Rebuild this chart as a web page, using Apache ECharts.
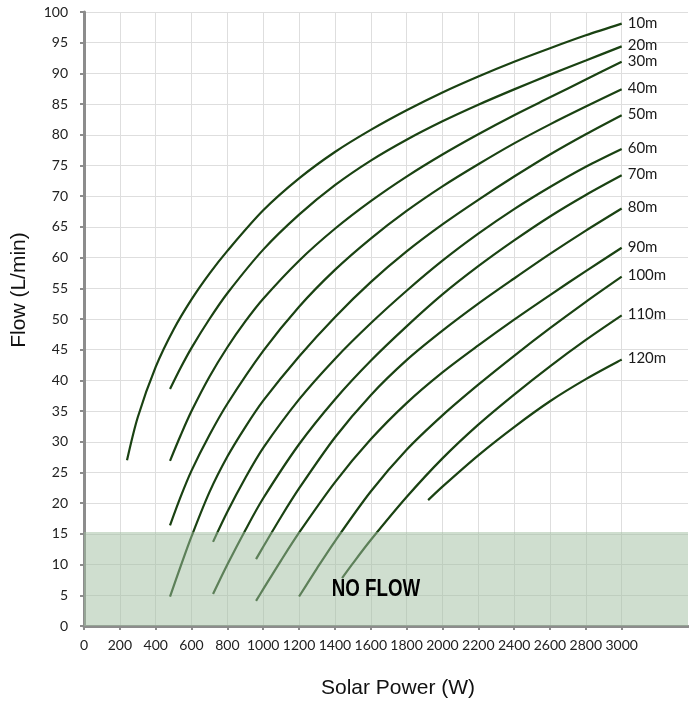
<!DOCTYPE html>
<html>
<head>
<meta charset="utf-8">
<script src="https://cdn.jsdelivr.net/npm/echarts@6/dist/echarts.min.js"></script>
<style>
html,body{margin:0;padding:0;background:#fff;}
#chart{width:689px;height:706px;}
</style>
</head>
<body>
<div id="chart"></div>
<script>
// ---- data (Solar Power W, Flow L/min) ----
const headNames = ['10m','20m','30m','40m','50m','60m','70m','80m','90m','100m','110m','120m'];
const curve10m = [[240,27.0],[300,34.0],[400,42.2],[500,48.3],[600,53.2],[700,57.4],[800,61.1],[1000,67.7],[1200,72.9],[1400,77.2],[1600,80.8],[1800,84.0],[2000,86.9],[2200,89.5],[2400,91.9],[2600,94.1],[2800,96.2],[3000,98.1]];
const curve20m = [[480,38.6],[540,42.1],[600,45.3],[700,50.0],[800,54.2],[1000,61.3],[1200,67.0],[1400,71.8],[1600,75.8],[1800,79.2],[2000,82.2],[2200,84.9],[2400,87.4],[2600,89.8],[2800,92.1],[3000,94.4]];
const curve30m = [[480,26.9],[540,31.1],[600,35.0],[700,40.6],[800,45.4],[900,49.6],[1000,53.3],[1200,59.5],[1400,64.7],[1600,69.2],[1800,73.2],[2000,76.8],[2200,80.1],[2400,83.2],[2600,86.1],[2800,89.0],[3000,91.9]];
const curve40m = [[480,16.4],[540,21.1],[600,25.3],[700,31.1],[800,36.2],[1000,44.8],[1200,52.0],[1400,58.0],[1600,63.1],[1800,67.6],[2000,71.6],[2200,75.2],[2400,78.6],[2600,81.7],[2800,84.6],[3000,87.4]];
const curve50m = [[480,4.8],[540,9.8],[600,14.6],[700,21.8],[800,27.6],[900,32.4],[1000,36.7],[1200,43.9],[1400,50.3],[1600,56.0],[1800,61.0],[2000,65.4],[2200,69.4],[2400,73.2],[2600,76.8],[2800,80.1],[3000,83.2]];
const curve60m = [[720,13.7],[800,18.6],[900,24.1],[1000,29.0],[1200,36.9],[1400,43.5],[1600,49.3],[1800,54.6],[2000,59.5],[2200,63.9],[2400,67.9],[2600,71.5],[2800,74.8],[3000,77.7]];
const curve70m = [[720,5.2],[800,10.0],[900,15.6],[1000,20.8],[1200,29.6],[1400,36.9],[1600,43.2],[1800,48.8],[2000,54.0],[2200,58.6],[2400,62.8],[2600,66.7],[2800,70.2],[3000,73.4]];
const curve80m = [[960,10.9],[1000,12.9],[1100,17.8],[1200,22.4],[1400,30.7],[1600,37.6],[1800,43.3],[2000,48.1],[2200,52.5],[2400,56.6],[2600,60.6],[2800,64.4],[3000,68.0]];
const curve90m = [[960,4.1],[1000,6.0],[1100,10.7],[1200,15.2],[1400,23.4],[1600,30.4],[1800,36.3],[2000,41.3],[2200,45.7],[2400,49.9],[2600,53.9],[2800,57.8],[3000,61.6]];
const curve100m = [[1200,4.8],[1300,9.4],[1400,13.8],[1600,21.9],[1800,28.7],[2000,34.3],[2200,39.3],[2400,44.0],[2600,48.5],[2800,52.8],[3000,56.9]];
const curve110m = [[1440,7.8],[1500,10.2],[1600,14.0],[1800,21.0],[2000,27.3],[2200,32.8],[2400,37.7],[2600,42.3],[2800,46.6],[3000,50.6]];
const curve120m = [[1920,20.5],[2000,22.7],[2200,27.8],[2400,32.4],[2600,36.6],[2800,40.2],[3000,43.4]];
const curves = [curve10m,curve20m,curve30m,curve40m,curve50m,curve60m,curve70m,curve80m,curve90m,curve100m,curve110m,curve120m];
const xTicks = [0,200,400,600,800,1000,1200,1400,1600,1800,2000,2200,2400,2600,2800,3000,3200];
const noFlowMax = 15.3;

const lineColor = '#1a4212';
const labelFont = 'Lato, "Open Sans", sans-serif';

const chart = echarts.init(document.getElementById('chart'), null, {renderer:'canvas'});

const series = headNames.map((name, i) => ({
  name: name,
  type: 'line',
  data: curves[i],
  smooth: 0.3,
  showSymbol: false,
  symbol: 'none',
  z: 2,
  lineStyle: {color: lineColor, width: 2.2},
  endLabel: {
    show: true,
    formatter: '{a}',
    distance: 6,
    offset: [0, -1],
    fontFamily: labelFont,
    fontSize: 15,
    color: '#1a1a1a'
  },
  emphasis: {disabled: true},
  silent: true
}));

series.push({
  name: 'noflow',
  type: 'line',
  data: [],
  z: 10,
  silent: true,
  markArea: {
    silent: true,
    z: 10,
    itemStyle: {color: 'rgba(160,190,160,0.5)'},
    data: [[{yAxis: 0}, {yAxis: noFlowMax}]]
  }
});

chart.setOption({
  animation: false,
  backgroundColor: '#fff',
  grid: {left: 84, right: 1, top: 12, bottom: 80, containLabel: false},
  xAxis: {
    type: 'value',
    min: 0,
    max: 3370,
    interval: 200,
    axisLine: {show: true, lineStyle: {color: '#8c8c8c', width: 3}},
    axisTick: {show: true, length: 4, lineStyle: {color: '#8c8c8c', width: 2}, customValues: xTicks},
    axisLabel: {
      customValues: xTicks,
      formatter: v => String(v),
      margin: 12,
      fontFamily: labelFont,
      fontSize: 14,
      color: '#222',
      hideOverlap: false,
      showMaxLabel: false
    },
    splitLine: {show: true, showMaxLine: false, lineStyle: {color: '#dedede', width: 1}}
  },
  yAxis: {
    type: 'value',
    min: 0,
    max: 100,
    interval: 5,
    axisLine: {show: true, lineStyle: {color: '#8c8c8c', width: 3}},
    axisTick: {show: true, length: 4, lineStyle: {color: '#8c8c8c', width: 2}},
    axisLabel: {
      margin: 16,
      fontFamily: labelFont,
      fontSize: 14,
      color: '#222'
    },
    splitLine: {show: true, lineStyle: {color: '#dedede', width: 1}}
  },
  graphic: [
    {
      type: 'text',
      x: 19, y: 290,
      rotation: Math.PI / 2,
      style: {
        text: 'Flow (L/min)',
        x: 0, y: 0,
        align: 'center',
        verticalAlign: 'middle',
        font: '21px "Liberation Sans", Arial, sans-serif',
        fill: '#111'
      }
    },
    {
      type: 'text',
      x: 398, y: 688,
      style: {
        text: 'Solar Power (W)',
        x: 0, y: 0,
        align: 'center',
        verticalAlign: 'middle',
        font: '21px "Liberation Sans", Arial, sans-serif',
        fill: '#111'
      }
    },
    {
      type: 'text',
      x: 376, y: 589,
      scaleX: 0.78,
      z: 100,
      style: {
        text: 'NO FLOW',
        x: 0, y: 0,
        align: 'center',
        verticalAlign: 'middle',
        font: 'bold 24px "Liberation Sans", Arial, sans-serif',
        fill: '#000'
      }
    }
  ],
  series: series
});
</script>
</body>
</html>
